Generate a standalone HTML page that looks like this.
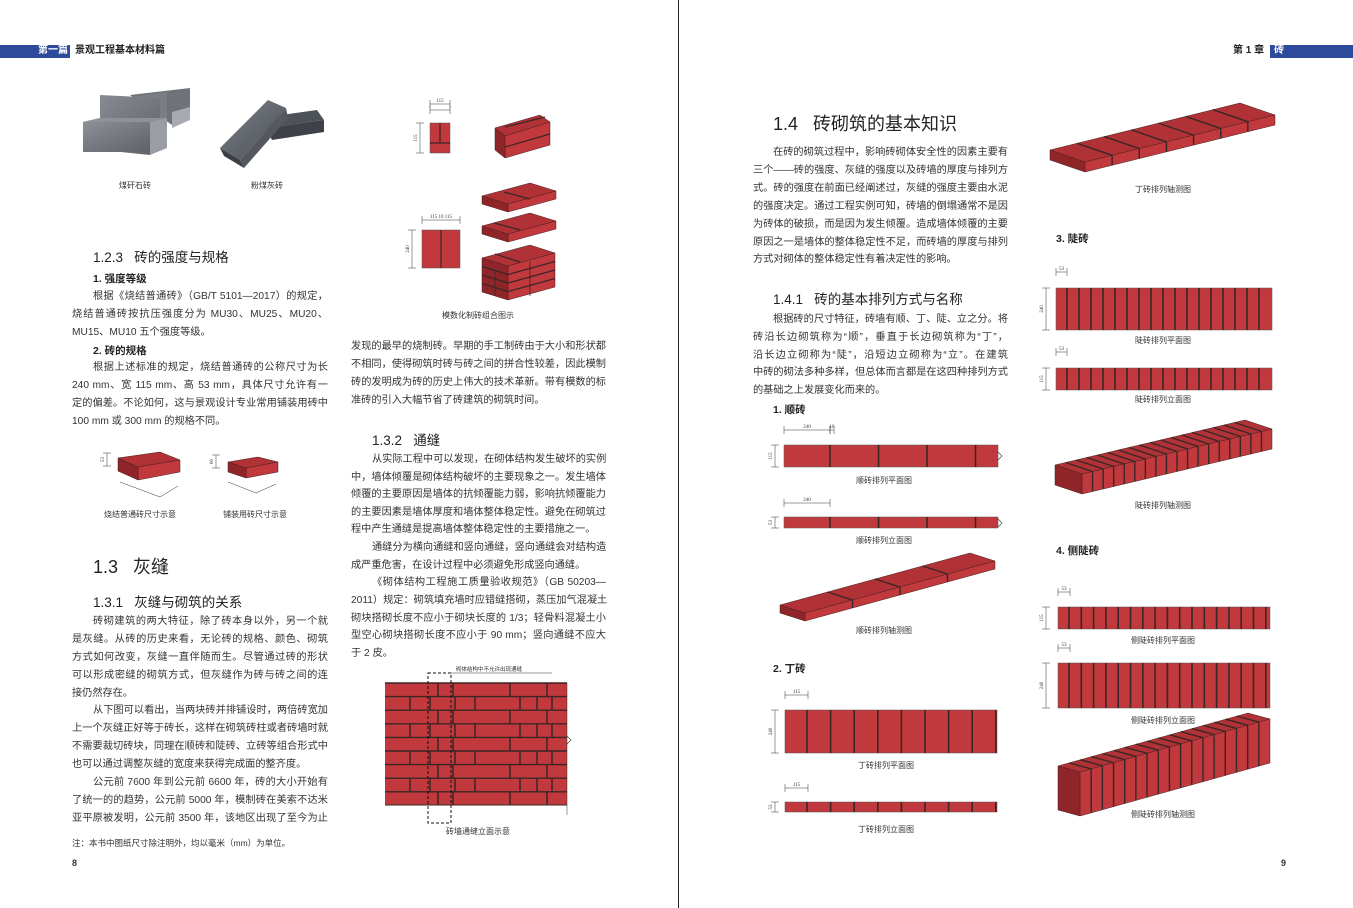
<!DOCTYPE html>
<html><head><meta charset="utf-8">
<style>
*{margin:0;padding:0}
body{width:1353px;height:908px;background:#fff;position:relative;overflow:hidden;font-family:"Liberation Sans","Noto Sans CJK SC",sans-serif;color:#333}
.t{position:absolute;font-size:10.2px;line-height:18px;height:18px;white-space:nowrap}
.j{text-align:justify;text-align-last:justify}
.h2{position:absolute;font-size:13.5px;white-space:nowrap;color:#222}
.h1{position:absolute;font-size:18px;white-space:nowrap;color:#222}
.b{position:absolute;font-size:10.5px;font-weight:bold;white-space:nowrap;color:#222}
.c{position:absolute;font-size:8px;white-space:nowrap;color:#333;transform:translateX(-50%)}
svg{position:absolute;left:0;top:0}
</style></head><body>
<svg id="g" width="1353" height="908" viewBox="0 0 1353 908">
<defs>
<linearGradient id="gr1" x1="0" y1="0" x2="1" y2="1"><stop offset="0" stop-color="#8d9096"/><stop offset="1" stop-color="#5d6168"/></linearGradient>
<linearGradient id="gr2" x1="0" y1="0" x2="1" y2="1"><stop offset="0" stop-color="#7c8087"/><stop offset="1" stop-color="#4a4e55"/></linearGradient>
</defs>
<rect x="0" y="45" width="70" height="13" fill="#2d4a9b"/>
<rect x="1270" y="45" width="83" height="13" fill="#2d4a9b"/>
<line x1="678.5" y1="0" x2="678.5" y2="908" stroke="#222" stroke-width="1"/>
<g>
<polygon points="130,95 190,88 190,118 172,125" fill="#6f7379"/>
<polygon points="107,100 167,92 167,124 150,128" fill="#7a7e84"/>
<polygon points="83,122 100,118 100,95 160,98 160,132 150,155 83,148" fill="url(#gr1)"/>
<rect x="83" y="122" width="67" height="30" fill="url(#gr1)"/>
<polygon points="150,122 167,118 167,148 150,155" fill="#9a9ea4"/>
<polygon points="172,112 190,107 190,120 172,128" fill="#a7abb1"/>
<polygon points="83,122 100,118 167,118 150,122" fill="#8e9298"/>
<polygon points="260,118 317,110 324,120 266,128" fill="#4d5158"/>
<polygon points="266,128 324,120 324,132 272,140" fill="#3e4248"/>
<polygon points="220,148 268,100 286,108 240,160" fill="url(#gr2)"/>
<polygon points="240,160 286,108 288,118 244,168" fill="#55595f"/>
<polygon points="220,148 240,160 244,168 224,156" fill="#3b3f45"/>
</g>
</svg>
<div class="t" style="top:42px;font-size:10px;color:#fff;font-weight:bold;left:38px">第一篇</div>
<div class="t" style="left:75px;top:42px;font-size:10px;font-weight:bold;color:#222">景观工程基本材料篇</div>
<div class="t" style="left:1233px;top:42px;font-size:10px;font-weight:bold;color:#222">第 1 章</div>
<div class="t" style="left:1274px;top:42px;font-size:10px;color:#fff;font-weight:bold">砖</div>
<div class="c" style="left:135px;top:180px">煤矸石砖</div>
<div class="c" style="left:267px;top:180px">粉煤灰砖</div>

<div class="h2" style="left:93px;top:246px">1.2.3&nbsp;&nbsp; 砖的强度与规格</div>
<div class="b" style="left:93px;top:271px">1. 强度等级</div>
<div class="t j" style="left:93px;width:235px;top:288px">根据《烧结普通砖》（GB/T 5101—2017）的规定，</div>
<div class="t j" style="left:72px;width:256px;top:306px">烧结普通砖按抗压强度分为 MU30、MU25、MU20、</div>
<div class="t" style="left:72px;top:324px">MU15、MU10 五个强度等级。</div>
<div class="b" style="left:93px;top:343px">2. 砖的规格</div>
<div class="t j" style="left:93px;width:235px;top:359px">根据上述标准的规定，烧结普通砖的公称尺寸为长</div>
<div class="t j" style="left:72px;width:256px;top:377px">240 mm、宽 115 mm、高 53 mm，具体尺寸允许有一</div>
<div class="t j" style="left:72px;width:256px;top:395px">定的偏差。不论如何，这与景观设计专业常用铺装用砖中</div>
<div class="t" style="left:72px;top:413px">100 mm 或 300 mm 的规格不同。</div>
<div class="c" style="left:140px;top:509px">烧结普通砖尺寸示意</div>
<div class="c" style="left:255px;top:509px">铺装用砖尺寸示意</div>

<div class="h1" style="left:93px;top:553px">1.3&nbsp;&nbsp; 灰缝</div>
<div class="h2" style="left:93px;top:591px">1.3.1&nbsp;&nbsp; 灰缝与砌筑的关系</div>
<div class="t j" style="left:93px;width:235px;top:613px">砖砌建筑的两大特征，除了砖本身以外，另一个就</div>
<div class="t j" style="left:72px;width:256px;top:631px">是灰缝。从砖的历史来看，无论砖的规格、颜色、砌筑</div>
<div class="t j" style="left:72px;width:256px;top:649px">方式如何改变，灰缝一直伴随而生。尽管通过砖的形状</div>
<div class="t j" style="left:72px;width:256px;top:667px">可以形成密缝的砌筑方式，但灰缝作为砖与砖之间的连</div>
<div class="t" style="left:72px;top:685px">接仍然存在。</div>
<div class="t j" style="left:93px;width:235px;top:702px">从下图可以看出，当两块砖并排铺设时，两倍砖宽加</div>
<div class="t j" style="left:72px;width:256px;top:720px">上一个灰缝正好等于砖长，这样在砌筑砖柱或者砖墙时就</div>
<div class="t j" style="left:72px;width:256px;top:738px">不需要裁切砖块，同理在顺砖和陡砖、立砖等组合形式中</div>
<div class="t" style="left:72px;top:756px">也可以通过调整灰缝的宽度来获得完成面的整齐度。</div>
<div class="t j" style="left:93px;width:235px;top:774px">公元前 7600 年到公元前 6600 年，砖的大小开始有</div>
<div class="t j" style="left:72px;width:256px;top:792px">了统一的的趋势，公元前 5000 年，模制砖在美索不达米</div>
<div class="t j" style="left:72px;width:256px;top:810px">亚平原被发明，公元前 3500 年，该地区出现了至今为止</div>
<div class="t" style="left:72px;top:834px;font-size:8.5px">注：本书中图纸尺寸除注明外，均以毫米（mm）为单位。</div>
<div class="t" style="left:72px;top:854px;font-size:9px;font-weight:bold">8</div>

<div class="c" style="left:478px;top:310px">模数化制砖组合图示</div>
<div class="t j" style="left:351px;width:255px;top:338px">发现的最早的烧制砖。早期的手工制砖由于大小和形状都</div>
<div class="t j" style="left:351px;width:255px;top:356px">不相同，使得砌筑时砖与砖之间的拼合性较差，因此模制</div>
<div class="t j" style="left:351px;width:255px;top:374px">砖的发明成为砖的历史上伟大的技术革新。带有模数的标</div>
<div class="t" style="left:351px;top:392px">准砖的引入大幅节省了砖建筑的砌筑时间。</div>
<div class="h2" style="left:372px;top:429px">1.3.2&nbsp;&nbsp; 通缝</div>
<div class="t j" style="left:372px;width:234px;top:451px">从实际工程中可以发现，在砌体结构发生破坏的实例</div>
<div class="t j" style="left:351px;width:255px;top:469px">中，墙体倾覆是砌体结构破坏的主要现象之一。发生墙体</div>
<div class="t j" style="left:351px;width:255px;top:486px">倾覆的主要原因是墙体的抗倾覆能力弱，影响抗倾覆能力</div>
<div class="t j" style="left:351px;width:255px;top:504px">的主要因素是墙体厚度和墙体整体稳定性。避免在砌筑过</div>
<div class="t" style="left:351px;top:521px">程中产生通缝是提高墙体整体稳定性的主要措施之一。</div>
<div class="t j" style="left:372px;width:234px;top:539px">通缝分为横向通缝和竖向通缝，竖向通缝会对结构造</div>
<div class="t" style="left:351px;top:557px">成严重危害，在设计过程中必须避免形成竖向通缝。</div>
<div class="t j" style="left:372px;width:234px;top:574px">《砌体结构工程施工质量验收规范》（GB 50203—</div>
<div class="t j" style="left:351px;width:255px;top:592px">2011）规定：砌筑填充墙时应错缝搭砌，蒸压加气混凝土</div>
<div class="t j" style="left:351px;width:255px;top:610px">砌块搭砌长度不应小于砌块长度的 1/3；轻骨料混凝土小</div>
<div class="t j" style="left:351px;width:255px;top:627px">型空心砌块搭砌长度不应小于 90 mm；竖向通缝不应大</div>
<div class="t" style="left:351px;top:645px">于 2 皮。</div>
<div class="t" style="left:456px;top:666px;font-size:5.5px;line-height:8px">砌体结构中不允许出现通缝</div>
<div class="c" style="left:478px;top:826px">砖墙通缝立面示意</div>

<div class="h1" style="left:773px;top:110px">1.4&nbsp;&nbsp; 砖砌筑的基本知识</div>
<div class="t j" style="left:773px;width:235px;top:144px">在砖的砌筑过程中，影响砖砌体安全性的因素主要有</div>
<div class="t j" style="left:753px;width:255px;top:162px">三个——砖的强度、灰缝的强度以及砖墙的厚度与排列方</div>
<div class="t j" style="left:753px;width:255px;top:180px">式。砖的强度在前面已经阐述过，灰缝的强度主要由水泥</div>
<div class="t j" style="left:753px;width:255px;top:198px">的强度决定。通过工程实例可知，砖墙的倒塌通常不是因</div>
<div class="t j" style="left:753px;width:255px;top:216px">为砖体的破损，而是因为发生倾覆。造成墙体倾覆的主要</div>
<div class="t j" style="left:753px;width:255px;top:234px">原因之一是墙体的整体稳定性不足，而砖墙的厚度与排列</div>
<div class="t" style="left:753px;top:251px">方式对砌体的整体稳定性有着决定性的影响。</div>
<div class="h2" style="left:773px;top:288px">1.4.1&nbsp;&nbsp; 砖的基本排列方式与名称</div>
<div class="t j" style="left:773px;width:235px;top:311px">根据砖的尺寸特征，砖墙有顺、丁、陡、立之分。将</div>
<div class="t j" style="left:753px;width:255px;top:329px">砖沿长边砌筑称为“顺”，垂直于长边砌筑称为“丁”，</div>
<div class="t j" style="left:753px;width:255px;top:347px">沿长边立砌称为“陡”，沿短边立砌称为“立”。在建筑</div>
<div class="t j" style="left:753px;width:255px;top:364px">中砖的砌法多种多样，但总体而言都是在这四种排列方式</div>
<div class="t" style="left:753px;top:382px">的基础之上发展变化而来的。</div>
<div class="b" style="left:773px;top:402px">1. 顺砖</div>
<div class="c" style="left:884px;top:475px">顺砖排列平面图</div>
<div class="c" style="left:884px;top:535px">顺砖排列立面图</div>
<div class="c" style="left:884px;top:625px">顺砖排列轴测图</div>
<div class="b" style="left:773px;top:661px">2. 丁砖</div>
<div class="c" style="left:886px;top:760px">丁砖排列平面图</div>
<div class="c" style="left:886px;top:824px">丁砖排列立面图</div>
<div class="c" style="left:1163px;top:184px">丁砖排列轴测图</div>
<div class="b" style="left:1056px;top:231px">3. 陡砖</div>
<div class="c" style="left:1163px;top:335px">陡砖排列平面图</div>
<div class="c" style="left:1163px;top:394px">陡砖排列立面图</div>
<div class="c" style="left:1163px;top:500px">陡砖排列轴测图</div>
<div class="b" style="left:1056px;top:543px">4. 侧陡砖</div>
<div class="c" style="left:1163px;top:635px">侧陡砖排列平面图</div>
<div class="c" style="left:1163px;top:715px">侧陡砖排列立面图</div>
<div class="c" style="left:1163px;top:809px">侧陡砖排列轴测图</div>
<div class="t" style="left:1281px;top:854px;font-size:9px;font-weight:bold">9</div>

<script>
var g=document.getElementById('g'),NS='http://www.w3.org/2000/svg';
var R='#c1393c',D='#8f2528',T='#b03236',J='#3b2626';
function el(n,a){var e=document.createElementNS(NS,n);for(var k in a)e.setAttribute(k,a[k]);g.appendChild(e);return e}
function poly(p,f){el('polygon',{points:p.map(function(q){return q.join(',')}).join(' '),fill:f,stroke:'#4a2020','stroke-width':0.5})}
function line(x1,y1,x2,y2,c,w){el('line',{x1:x1,y1:y1,x2:x2,y2:y2,stroke:c||J,'stroke-width':w||1})}
function strip(x,y,w,h,p,off){el('rect',{x:x,y:y,width:w,height:h,fill:R,stroke:'#555','stroke-width':0.5});for(var i=x+off;i<x+w-1;i+=p){line(i,y,i,y+h,J,1.6)}}
function iso(A,L,W,h,n){
 var B=[A[0]+L[0],A[1]+L[1]],C=[B[0]+W[0],B[1]+W[1]],Dp=[A[0]+W[0],A[1]+W[1]];
 poly([A,B,C,Dp],T);poly([Dp,C,[C[0],C[1]+h],[Dp[0],Dp[1]+h]],R);poly([A,Dp,[Dp[0],Dp[1]+h],[A[0],A[1]+h]],D);
 for(var i=1;i<n;i++){var f=i/n,px=A[0]+L[0]*f,py=A[1]+L[1]*f;line(px,py,px+W[0],py+W[1],J,1.4);line(px+W[0],py+W[1],px+W[0],py+W[1]+h,J,1.4)}
}
function dimH(x1,x2,y,lab){line(x1,y,x2,y,'#333',0.5);line(x1,y-4,x1,y+4,'#333',0.5);line(x2,y-4,x2,y+4,'#333',0.5);var t=el('text',{x:(x1+x2)/2,y:y-2,'font-size':5,'text-anchor':'middle',fill:'#333','font-family':'Liberation Serif'});t.textContent=lab}
function dimV(x,y1,y2,lab){line(x,y1,x,y2,'#333',0.5);line(x-4,y1,x+4,y1,'#333',0.5);line(x-4,y2,x+4,y2,'#333',0.5);var t=el('text',{x:x-3,y:(y1+y2)/2,'font-size':5,'text-anchor':'middle',fill:'#333','font-family':'Liberation Serif',transform:'rotate(-90 '+(x-3)+' '+(y1+y2)/2+')'});t.textContent=lab}
el('rect',{x:430,y:123,width:20,height:30,fill:R,stroke:'#555','stroke-width':0.5});line(440,123,440,143,J,1.2);line(430,143,450,143,J,1.2);
dimH(430,450,104,'115');dimH(430,450,110,'');dimV(420,123,153,'115');
poly([[495,128],[540,115],[550,122],[505,136]],T);poly([[505,136],[550,122],[550,145],[505,158]],R);poly([[495,128],[505,136],[505,158],[495,150]],D);
line(505,127,545,117,J,1.2);line(505,147,550,134,J,1.2);
iso([482,196],[48,-13],[26,8],8,1);line(504,192,530,199,J,1.2);
iso([482,226],[48,-13],[26,8],8,1);line(494,223,520,230,J,1.2);
el('rect',{x:422,y:230,width:38,height:38,fill:R,stroke:'#555','stroke-width':0.5});line(441,230,441,268,J,1.2);
dimH(422,460,220,'115  10  115');dimV(412,230,268,'240');
poly([[482,258],[530,245],[555,253],[508,266]],T);poly([[508,266],[555,253],[555,287],[508,300]],R);poly([[482,258],[508,266],[508,300],[482,292]],D);
for(var k=1;k<4;k++){line(482,258+k*8.5,508,266+k*8.5,J,1.2);line(508,266+k*8.5,555,253+k*8.5,J,1.2)}
line(495,254,520,262,J,1.2);line(530,262,530,296,J,0.8);line(495,270,495,296,J,0.8);
poly([[118,458],[160,452],[180,460],[138,467]],T);poly([[138,467],[180,460],[180,472],[138,480]],R);poly([[118,458],[138,467],[138,480],[118,471]],D);
dimV(107,453,466,'53');line(120,482,160,497,'#333',0.5);line(160,497,178,486,'#333',0.5);
poly([[228,462],[258,457],[278,462],[246,468]],T);poly([[246,468],[278,462],[278,472],[246,478]],R);poly([[228,462],[246,468],[246,478],[228,472]],D);
dimV(216,455,468,'60');line(228,482,256,493,'#333',0.5);line(256,493,276,484,'#333',0.5);
el('rect',{x:385,y:683,width:182,height:122,fill:R});
for(var r=0;r<9;r++){var y=683+r*13.6;line(385,y,567,y,J,1.4);
 var xs=(r%2==0)?[438,453,510,547]:[410,430,455,475,520,537,552];
 xs.forEach(function(x){line(x,y,x,y+13.6,J,1.5)})}
line(385,805,567,805,J,1);
el('rect',{x:428,y:673,width:23,height:150,fill:'none',stroke:'#111','stroke-width':1,'stroke-dasharray':'3,2'});
line(451,673,552,673,'#333',0.5);line(567,683,567,815,'#333',0.5);
strip(784,445,214,22,48.5,46);dimH(784,830,430,'240');dimH(830,834,430,'10');dimV(775,445,467,'115');
strip(784,517,214,11,48.5,46);dimH(784,830,503,'240');dimV(775,517,528,'53');
iso([780,605],[190,-52],[25,8],8,4);
strip(785,710,212,43,23.6,22);dimH(785,808,695,'115');dimV(775,710,753,'240');
strip(785,802,212,10,23.6,22);dimH(785,808,788,'115');dimV(775,802,812,'53');
iso([1050,150],[190,-47],[35,12],10,7);
strip(1056,288,216,42,12,11);dimH(1056,1067,272,'53');dimV(1046,288,330,'240');
strip(1056,368,216,22,12,11);dimH(1056,1067,352,'53');dimV(1046,368,390,'115');
iso([1055,465],[190,-45],[27,9],20,18);
strip(1058,607,212,22,12.3,11);dimH(1058,1070,592,'53');dimV(1046,607,629,'115');
strip(1058,663,212,45,12.3,11);dimH(1058,1070,648,'53');dimV(1046,663,708,'240');
iso([1058,766],[190,-53],[22,6],44,17);
[[998,456],[998,523],[567,740]].forEach(function(p){el('polyline',{points:(p[0])+','+(p[1]-4)+' '+(p[0]+4)+','+p[1]+' '+p[0]+','+(p[1]+4),fill:'none',stroke:'#333','stroke-width':0.6})});
</script>
</body></html>
